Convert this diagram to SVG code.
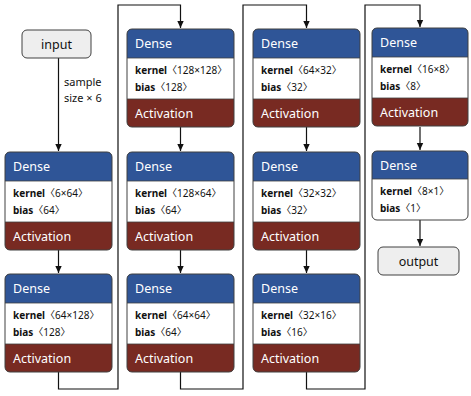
<svg xmlns="http://www.w3.org/2000/svg" width="471" height="396" viewBox="0 0 471 396">
<style>
text{font-family:"Noto Sans","Noto Sans CJK KR",sans-serif;}
.bg{fill:#ffffff;}
.hd{fill:#2f5597;}
.ac{fill:#782a22;}
.ol{fill:none;stroke:#404040;stroke-width:1;}
.sep{stroke:#404040;stroke-width:0.8;}
.t1{font-size:12.5px;fill:#ffffff;}
.t2{font-size:10px;fill:#111111;}
.b{font-weight:bold;}
.io{fill:#eeeeee;stroke:#404040;stroke-width:1;}
.tio{font-size:12.5px;fill:#111111;text-anchor:middle;}
.lbl{font-size:11px;fill:#111111;}
.cn{fill:none;stroke:#111111;stroke-width:1.2;}
</style>
<defs>
<marker id="ah" markerWidth="8" markerHeight="8" refX="7" refY="4" orient="auto" markerUnits="userSpaceOnUse">
<path d="M0,0.8 L7,4 L0,7.2 z" fill="#111111"/>
</marker>
<g id="nodeA">
<rect class="bg" x="0" y="0" width="107" height="98" rx="5"/>
<path class="hd" d="M0,29 V5 Q0,0 5,0 H102 Q107,0 107,5 V29 Z"/>
<path class="ac" d="M0,70 H107 V93 Q107,98 102,98 H5 Q0,98 0,93 Z"/>
<line class="sep" x1="0" y1="29" x2="107" y2="29"/>
<line class="sep" x1="0" y1="70" x2="107" y2="70"/>
<rect class="ol" x="0" y="0" width="107" height="98" rx="5"/>
<text class="t1" x="8" y="19">Dense</text>
<text class="t1" x="8" y="89">Activation</text>
</g>
<g id="nodeB">
<rect class="bg" x="0" y="0" width="96" height="98" rx="5"/>
<path class="hd" d="M0,29 V5 Q0,0 5,0 H91 Q96,0 96,5 V29 Z"/>
<path class="ac" d="M0,70 H96 V93 Q96,98 91,98 H5 Q0,98 0,93 Z"/>
<line class="sep" x1="0" y1="29" x2="96" y2="29"/>
<line class="sep" x1="0" y1="70" x2="96" y2="70"/>
<rect class="ol" x="0" y="0" width="96" height="98" rx="5"/>
<text class="t1" x="8" y="19">Dense</text>
<text class="t1" x="8" y="89">Activation</text>
</g>
<g id="nodeC">
<rect class="bg" x="0" y="0" width="96" height="69" rx="5"/>
<path class="hd" d="M0,28 V5 Q0,0 5,0 H91 Q96,0 96,5 V28 Z"/>
<line class="sep" x1="0" y1="28" x2="96" y2="28"/>
<rect class="ol" x="0" y="0" width="96" height="69" rx="5"/>
<text class="t1" x="8" y="19">Dense</text>
</g>
</defs>

<g id="connectors">
<line class="cn" x1="58.5" y1="58" x2="58.5" y2="151" marker-end="url(#ah)"/>
<line class="cn" x1="58.5" y1="250" x2="58.5" y2="273" marker-end="url(#ah)"/>
<polyline class="cn" points="58.5,372 58.5,389 118,389 118,5 180.5,5 180.5,28" marker-end="url(#ah)"/>
<line class="cn" x1="180.5" y1="127" x2="180.5" y2="151" marker-end="url(#ah)"/>
<line class="cn" x1="180.5" y1="250" x2="180.5" y2="273" marker-end="url(#ah)"/>
<polyline class="cn" points="180.5,372 180.5,389 243,389 243,5 306.5,5 306.5,28" marker-end="url(#ah)"/>
<line class="cn" x1="306.5" y1="127" x2="306.5" y2="151" marker-end="url(#ah)"/>
<line class="cn" x1="306.5" y1="250" x2="306.5" y2="273" marker-end="url(#ah)"/>
<polyline class="cn" points="306.5,372 306.5,389 365,389 365,5 420,5 420,27" marker-end="url(#ah)"/>
<line class="cn" x1="420" y1="127" x2="420" y2="150" marker-end="url(#ah)"/>
<line class="cn" x1="420" y1="220" x2="420" y2="246" marker-end="url(#ah)"/>
<text class="lbl" x="64" y="86">sample</text>
<text class="lbl" x="64" y="102">size × 6</text>
</g>

<g id="input">
<rect class="io" x="22" y="30" width="69" height="28" rx="5"/>
<text class="tio" x="56.5" y="48.5">input</text>
</g>

<g id="dense1" transform="translate(5,152)">
<use href="#nodeA"/>
<text class="t2" x="8" y="45"><tspan class="b">kernel</tspan>〈6×64〉</text>
<text class="t2" x="8" y="62"><tspan class="b">bias</tspan>〈64〉</text>
</g>
<g id="dense2" transform="translate(5,274)">
<use href="#nodeA"/>
<text class="t2" x="8" y="45"><tspan class="b">kernel</tspan>〈64×128〉</text>
<text class="t2" x="8" y="62"><tspan class="b">bias</tspan>〈128〉</text>
</g>
<g id="dense3" transform="translate(127,29)">
<use href="#nodeA"/>
<text class="t2" x="8" y="45"><tspan class="b">kernel</tspan>〈128×128〉</text>
<text class="t2" x="8" y="62"><tspan class="b">bias</tspan>〈128〉</text>
</g>
<g id="dense4" transform="translate(127,152)">
<use href="#nodeA"/>
<text class="t2" x="8" y="45"><tspan class="b">kernel</tspan>〈128×64〉</text>
<text class="t2" x="8" y="62"><tspan class="b">bias</tspan>〈64〉</text>
</g>
<g id="dense5" transform="translate(127,274)">
<use href="#nodeA"/>
<text class="t2" x="8" y="45"><tspan class="b">kernel</tspan>〈64×64〉</text>
<text class="t2" x="8" y="62"><tspan class="b">bias</tspan>〈64〉</text>
</g>
<g id="dense6" transform="translate(253,29)">
<use href="#nodeA"/>
<text class="t2" x="8" y="45"><tspan class="b">kernel</tspan>〈64×32〉</text>
<text class="t2" x="8" y="62"><tspan class="b">bias</tspan>〈32〉</text>
</g>
<g id="dense7" transform="translate(253,152)">
<use href="#nodeA"/>
<text class="t2" x="8" y="45"><tspan class="b">kernel</tspan>〈32×32〉</text>
<text class="t2" x="8" y="62"><tspan class="b">bias</tspan>〈32〉</text>
</g>
<g id="dense8" transform="translate(253,274)">
<use href="#nodeA"/>
<text class="t2" x="8" y="45"><tspan class="b">kernel</tspan>〈32×16〉</text>
<text class="t2" x="8" y="62"><tspan class="b">bias</tspan>〈16〉</text>
</g>
<g id="dense9" transform="translate(372,28)">
<use href="#nodeB"/>
<text class="t2" x="8" y="45"><tspan class="b">kernel</tspan>〈16×8〉</text>
<text class="t2" x="8" y="62"><tspan class="b">bias</tspan>〈8〉</text>
</g>
<g id="dense10" transform="translate(372,151)">
<use href="#nodeC"/>
<text class="t2" x="8" y="44"><tspan class="b">kernel</tspan>〈8×1〉</text>
<text class="t2" x="8" y="61"><tspan class="b">bias</tspan>〈1〉</text>
</g>

<g id="output">
<rect class="io" x="378" y="247" width="81" height="28" rx="5"/>
<text class="tio" x="418.5" y="265.5">output</text>
</g>
</svg>
